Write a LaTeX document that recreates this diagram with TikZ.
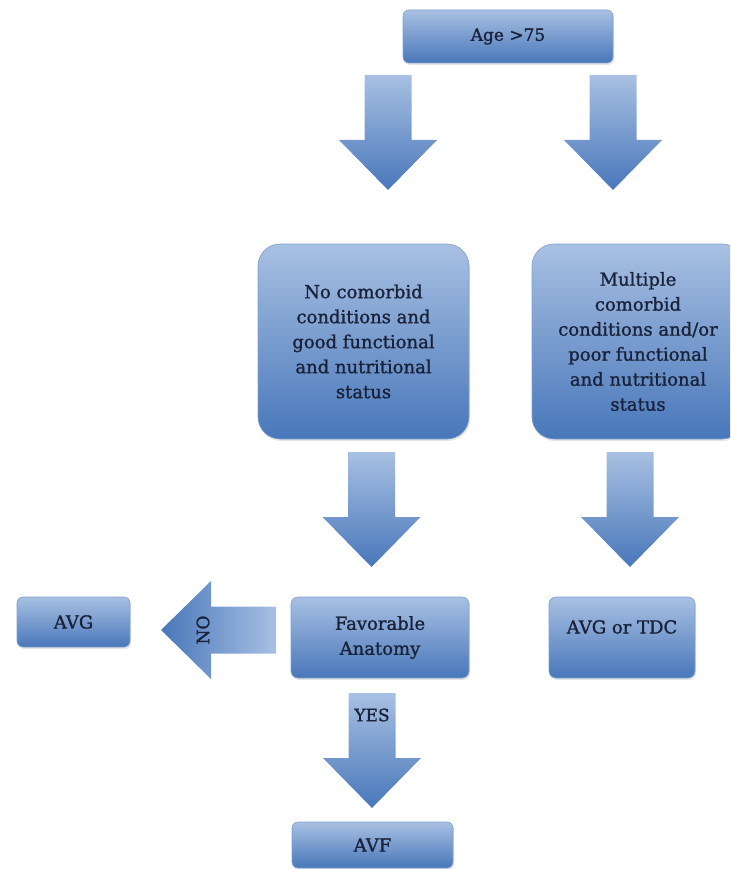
\documentclass[tikz,border=0pt]{standalone}
\usepackage{fontspec}
\setmainfont{DejaVu Serif}
\newfontfamily\boxfont[FakeBold=1.2]{DejaVu Serif}
\usetikzlibrary{positioning,shadows}
\definecolor{boxtop}{RGB}{168,192,226}
\definecolor{boxbot}{RGB}{72,119,186}
\definecolor{boxline}{RGB}{128,160,206}
\definecolor{ink}{RGB}{26,34,58}
\def\sw{23.5}  % half shaft
\def\hw{49}    % half head
\def\hl{57.5}  % half length
\def\hb{7.5}   % head base
\tikzstyle{flowbox}=[draw=boxline,line width=.6pt,rounded corners=7pt,
  top color=boxtop,bottom color=boxbot,text=ink,align=center,
  font=\boxfont\fontsize{18}{25}\selectfont,
  drop shadow={opacity=.2,shadow xshift=1pt,shadow yshift=-2pt}]
\tikzstyle{tag}=[text=ink,font=\boxfont\fontsize{17}{20}\selectfont]
\newcommand{\newBox}[4]{\node[flowbox,#3](#1) at #4 {#2};}
\newcommand{\newArrow}[4]{\coordinate (#1) at #2;
  \shade[top color=boxtop,bottom color=boxbot,#4,shift={#2},rotate=#3]
    (-\sw,-\hl) -- (\sw,-\hl) -- (\sw,\hb) -- (\hw,\hb) -- (0,\hl)
    -- (-\hw,\hb) -- (-\sw,\hb) -- cycle;}

\begin{document}
\begin{tikzpicture}[x=1pt,y=-1pt,inner sep=0pt]
      \useasboundingbox (0,0) rectangle (730,869);
      \clip (0,0) rectangle (730,869);
      \newBox{age}{Age >75}{minimum width=210pt,minimum height=53pt,rounded corners=6pt,font=\boxfont\fontsize{17}{20}\selectfont}{(508,36.5)}
      \newBox{good}{No comorbid\\conditions and\\good functional\\and nutritional\\status}{minimum width=211pt,minimum height=195pt,rounded corners=22pt}{(363.5,341.5)}
      \newBox{poor}{Multiple\\comorbid\\conditions and/or\\poor functional\\and nutritional\\status}{minimum width=212pt,minimum height=195pt,rounded corners=22pt}{(638,341.5)}
      \newBox{fav}{Favorable\\Anatomy}{minimum width=178pt,minimum height=81pt}{(380,637.5)}
      \newBox{tdc}{AVG or TDC}{minimum width=146pt,minimum height=81pt,text height=13pt,text depth=21pt}{(622,637.5)}
      \newBox{avg}{AVG}{minimum width=113pt,minimum height=50pt,rounded corners=6pt}{(73.5,622)}
      \newBox{avf}{AVF}{minimum width=161pt,minimum height=46pt,rounded corners=6pt}{(372.5,845)}

      \newArrow{a1}{(388,132.5)}{0}{}
      \newArrow{a2}{(613,132.5)}{0}{}
      \newArrow{a3}{(371.5,509.5)}{0}{}
      \newArrow{a4}{(630,509.5)}{0}{}
      \newArrow{a5}{(372,750.5)}{0}{}
      \newArrow{a6}{(218.5,630)}{-90}{left color=boxbot,right color=boxtop}
      \node[tag] (yes) at (372,715) {YES};
      \node[tag,rotate=90] (no) at (203,630) {NO};
    \end{tikzpicture}
\end{document}
